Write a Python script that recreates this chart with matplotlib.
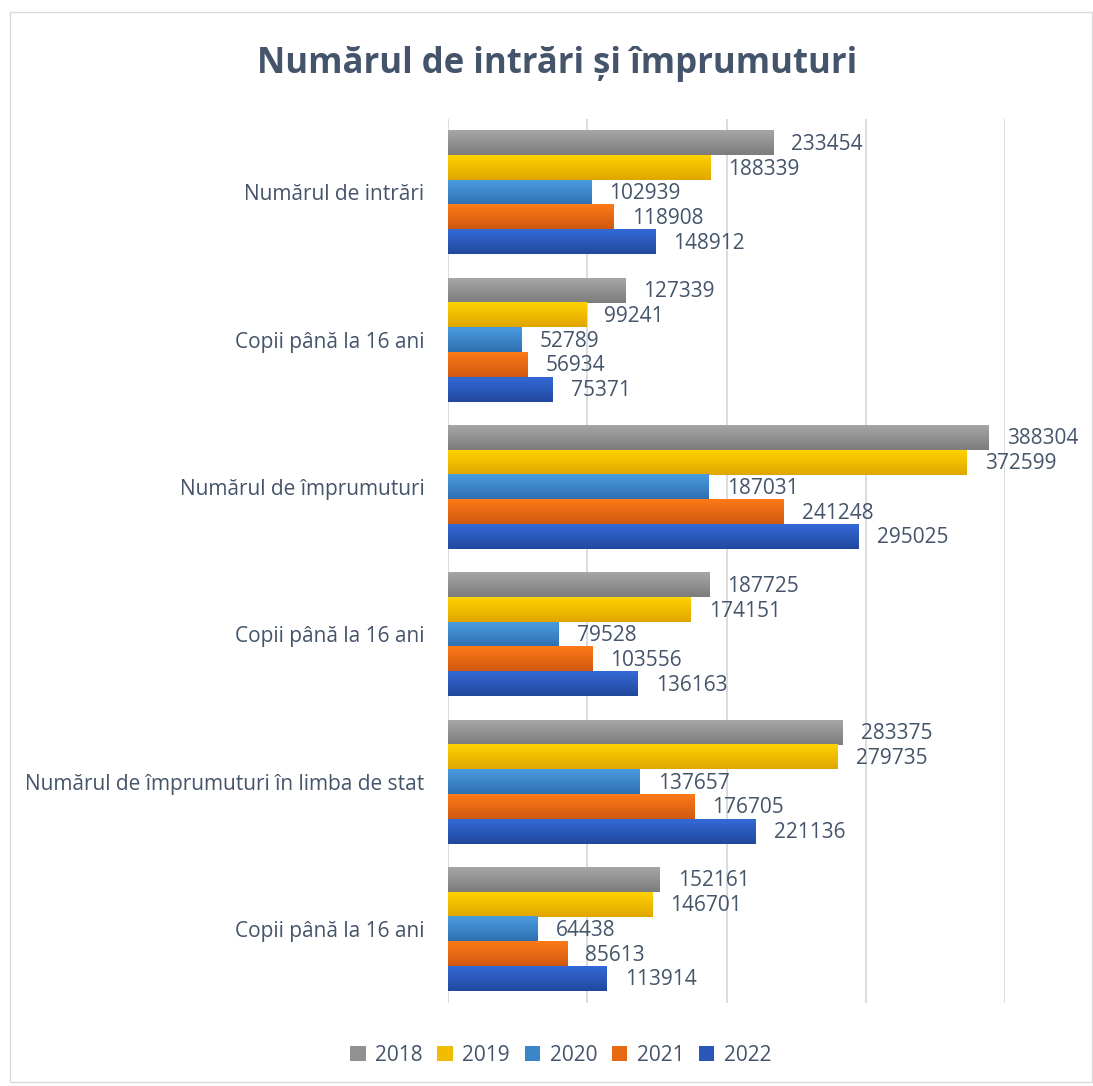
"""
  numarul de intrari si imprumuturi, 2018-2022
"""
import numpy as np
from matplotlib import pyplot as plt
from matplotlib.colors import LinearSegmentedColormap
from matplotlib.patches import Rectangle, Patch

categories=['Numărul de intrări','Copii până la 16 ani','Numărul de împrumuturi',
            'Copii până la 16 ani','Numărul de împrumuturi în limba de stat',
            'Copii până la 16 ani']
years=['2018','2019','2020','2021','2022']
v2018=[233454,127339,388304,187725,283375,152161]
v2019=[188339,99241,372599,174151,279735,146701]
v2020=[102939,52789,187031,79528,137657,64438]
v2021=[118908,56934,241248,103556,176705,85613]
v2022=[148912,75371,295025,136163,221136,113914]
series=[v2018,v2019,v2020,v2021,v2022]

#top and bottom colour of each bar gradient
grads=[('#a6a6a6','#7c7c7c'),
       ('#ffd200','#e0a600'),
       ('#4a9be0','#2f70b0'),
       ('#ff7a18','#cf5810'),
       ('#3369d6','#22489e')]
textcol='#44546a'
font='Open Sans'

fig=plt.figure(figsize=(10.93,10.86),dpi=100)
ax=fig.add_axes([0.41,0.0767,0.5095,0.814])

ncat=len(categories)
nser=len(series)
y=np.arange(ncat)
group=0.84
h=group/nser
grad=np.linspace(0,1,64).reshape(-1,1)
for i,vals in enumerate(series):
    pos=y-group/2+h*(i+0.5)
    bars=ax.barh(pos,vals,height=h,color='none',edgecolor='none',zorder=2)
    cmap=LinearSegmentedColormap.from_list('g',list(grads[i]))
    for b,v,p in zip(bars,vals,pos):
        x0,y0=b.get_x(),b.get_y()
        # y axis is inverted, so the first row of the image sits at the top
        ax.imshow(grad,cmap=cmap,aspect='auto',zorder=2,origin='upper',
                  extent=[x0,x0+b.get_width(),y0+b.get_height(),y0],
                  interpolation='bicubic')
        ax.annotate(str(v),(v,p),xytext=(13,-1),
                    textcoords='offset points',ha='left',va='center',
                    fontsize=15,color=textcol,family=font)

ax.set_xlim(0,400000)
ax.set_ylim(ncat-0.5,-0.5)
ax.set_xticks([0,100000,200000,300000,400000])
ax.set_xticklabels([])
ax.tick_params(axis='x',length=0)
ax.set_yticks(y)
ax.set_yticklabels(categories,fontsize=15,color=textcol,family=font)
ax.tick_params(axis='y',length=0,pad=17)
ax.grid(axis='x',color='#d9d9d9',linewidth=1.3,zorder=0)
ax.set_axisbelow(True)
for s in ax.spines.values():
    s.set_visible(False)

fig.text(0.51,0.941,'Numărul de intrări și împrumuturi',ha='center',va='center',
         fontsize=25,fontweight='bold',color=textcol,family=font)

handles=[Patch(facecolor=LinearSegmentedColormap.from_list('g',list(g))(0.5),edgecolor='none')
         for g in grads]
leg=fig.legend(handles,years,loc='center',bbox_to_anchor=(0.513,0.028),ncol=nser,
               frameon=False,handlelength=0.75,handleheight=0.75,handletextpad=0.45,
               columnspacing=0.7,prop={'family':font,'size':15})
for t in leg.get_texts():
    t.set_color(textcol)

#thin border round the chart area
fig.patches.append(Rectangle((0.009,0.004),0.99,0.985,transform=fig.transFigure,
                             fill=False,edgecolor='#d9d9d9',linewidth=1))

fig.savefig('out.png',dpi=100)
